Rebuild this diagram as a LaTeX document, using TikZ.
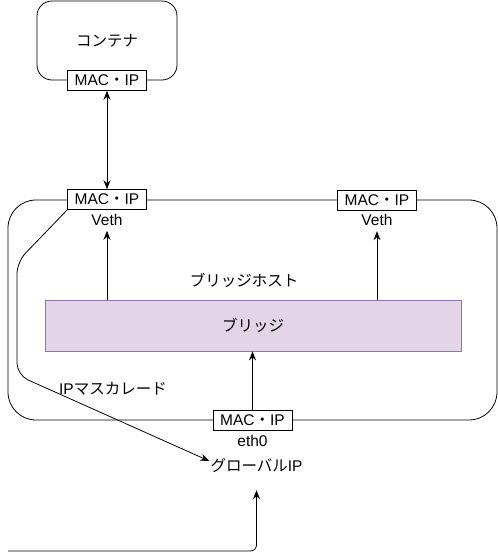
\documentclass[tikz,border=0pt]{standalone}
\usepackage{fontspec}
\setmainfont{Liberation Sans}
\newfontfamily\jp{Noto Sans CJK JP}
\usetikzlibrary{arrows.meta,positioning}
\definecolor{bridgefill}{HTML}{E1D5E7}
\definecolor{bridgeline}{HTML}{9673A6}
\tikzset{frame/.style={draw,rounded corners=15pt,line width=0.8pt},
  macbox/.style={draw,fill=white,minimum width=79pt,minimum height=20pt,
  inner sep=0pt,line width=0.8pt},
  tag/.style={inner sep=1pt},
  flow/.style={->,>={Stealth[length=9pt,width=7pt]},line width=0.8pt}}

\begin{document}
\begin{tikzpicture}[x=1pt,y=-1pt,font=\fontsize{15.5}{18}\selectfont]
\useasboundingbox (0,0) rectangle (498,560);
% container
\node[frame,minimum width=140pt,minimum height=79pt] (cont) at (107,40.5) {\jp コンテナ};
\node[macbox] (contmac) at (cont.south) {MAC{\jp ・}IP};
% bridge host
\node[frame,rounded corners=28pt,minimum width=489pt,minimum height=220pt] (host) at (252.5,310) {};
\node[tag] (hostname) at (244,280) {\jp ブリッジホスト};
\node[macbox] (vethL) at (host.north -| contmac) {MAC{\jp ・}IP};
\node[macbox] (vethR) at (377,200) {MAC{\jp ・}IP};
\node[tag,below=3pt of vethL] (vethLtxt) {Veth};
\node[tag,below=3pt of vethR] (vethRtxt) {Veth};
\node[draw=bridgeline,fill=bridgefill,line width=0.8pt,minimum width=416pt,minimum height=51pt] (bridge) at (253,325.5) {\jp ブリッジ};
\node[macbox] (eth0mac) at (252.5,420) {MAC{\jp ・}IP};
\node[tag,below=4pt of eth0mac] (eth0txt) {eth0};
% outside
\node[tag] (gip) at (256.5,466) {{\jp グローバル}IP};
\node[tag] (masq) at (113,389) {IP{\jp マスカレード}};
\coordinate (outside) at (8,551);

\draw[flow,<->] (contmac) -- (vethL);
\draw[flow,shorten >=4pt] (bridge.north -| vethLtxt) -- (vethLtxt);
\draw[flow,shorten >=4pt] (bridge.north -| vethRtxt) -- (vethRtxt);
\draw[flow] (eth0mac) -- (eth0mac |- bridge.south);
\draw[flow,rounded corners=12pt] (vethL.south west) -- (17,262) -- (17,375) -- ([yshift=5pt]gip.west);
\draw[flow,rounded corners=6pt,shorten >=16pt] (outside) -- (outside -| gip) -- (gip.south);
\end{tikzpicture}
\end{document}
